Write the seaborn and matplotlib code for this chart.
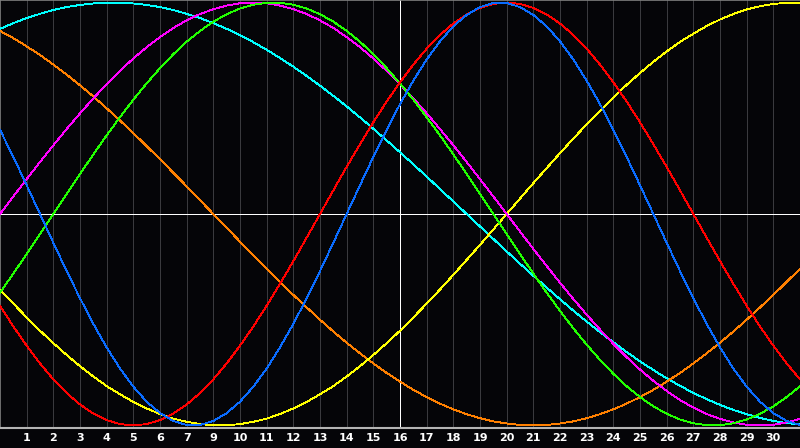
import numpy as np
import pandas as pd
import matplotlib
matplotlib.use("Agg")
import matplotlib.pyplot as plt
import seaborn as sns

# Day position along the x axis, read every half day (0 .. 30)
days = [i * 0.5 for i in range(61)]

# Tick labels at grid lines 1..29 (the chart skips "8")
tick_positions = list(range(1, 30))
tick_labels = ["1", "2", "3", "4", "5", "6", "7", "9", "10", "11", "12", "13", "14", "15",
               "16", "17", "18", "19", "20", "21", "22", "23", "24", "25", "26", "27",
               "28", "29", "30"]

# Series values (scale -1..1), every half day
physical = [0.398, 0.270, 0.136, 0.0, -0.136, -0.270, -0.398, -0.520, -0.631, -0.731,
            -0.817, -0.888, -0.942, -0.979, -0.998, -0.998, -0.979, -0.942, -0.888, -0.817,
            -0.731, -0.631, -0.520, -0.398, -0.270, -0.136, 0.0, 0.136, 0.270, 0.398,
            0.520, 0.631, 0.731, 0.817, 0.888, 0.942, 0.979, 0.998, 0.998, 0.979,
            0.942, 0.888, 0.817, 0.731, 0.631, 0.520, 0.398, 0.270, 0.136, 0.0,
            -0.136, -0.270, -0.398, -0.520, -0.631, -0.731, -0.817, -0.888, -0.942, -0.979,
            -0.998]
emotional = [-0.434, -0.532, -0.623, -0.707, -0.782, -0.847, -0.901, -0.944, -0.975, -0.994,
             -1.0, -0.994, -0.975, -0.944, -0.901, -0.847, -0.782, -0.707, -0.623, -0.532,
             -0.434, -0.330, -0.223, -0.112, 0.0, 0.112, 0.223, 0.330, 0.434, 0.532,
             0.623, 0.707, 0.782, 0.847, 0.901, 0.944, 0.975, 0.994, 1.0, 0.994,
             0.975, 0.944, 0.901, 0.847, 0.782, 0.707, 0.623, 0.532, 0.434, 0.330,
             0.223, 0.112, 0.0, -0.112, -0.223, -0.330, -0.434, -0.532, -0.623, -0.707,
             -0.782]
intellectual = [-0.372, -0.282, -0.189, -0.095, 0.0, 0.095, 0.189, 0.282, 0.372, 0.458,
                0.541, 0.618, 0.690, 0.756, 0.815, 0.866, 0.910, 0.945, 0.972, 0.990,
                0.999, 0.999, 0.990, 0.972, 0.945, 0.910, 0.866, 0.815, 0.756, 0.690,
                0.618, 0.541, 0.458, 0.372, 0.282, 0.189, 0.095, 0.0, -0.095, -0.189,
                -0.282, -0.372, -0.458, -0.541, -0.618, -0.690, -0.756, -0.815, -0.866, -0.910,
                -0.945, -0.972, -0.990, -0.999, -0.999, -0.990, -0.972, -0.945, -0.910, -0.866,
                -0.815]
intuitive = [0.0, 0.083, 0.165, 0.246, 0.325, 0.402, 0.476, 0.547, 0.614, 0.677,
             0.736, 0.789, 0.837, 0.880, 0.916, 0.946, 0.969, 0.986, 0.997, 1.0,
             0.997, 0.986, 0.969, 0.946, 0.916, 0.880, 0.837, 0.789, 0.736, 0.677,
             0.614, 0.547, 0.476, 0.402, 0.325, 0.246, 0.165, 0.083, 0.0, -0.083,
             -0.165, -0.246, -0.325, -0.402, -0.476, -0.547, -0.614, -0.677, -0.736, -0.789,
             -0.837, -0.880, -0.916, -0.946, -0.969, -0.986, -0.997, -1.0, -0.997, -0.986,
             -0.969]
aesthetic = [-0.357, -0.424, -0.489, -0.552, -0.611, -0.667, -0.720, -0.769, -0.814, -0.853,
             -0.889, -0.920, -0.946, -0.968, -0.983, -0.994, -0.999, -0.999, -0.994, -0.983,
             -0.968, -0.946, -0.920, -0.889, -0.853, -0.814, -0.769, -0.720, -0.667, -0.611,
             -0.552, -0.489, -0.424, -0.357, -0.288, -0.217, -0.146, -0.073, 0.0, 0.073,
             0.146, 0.217, 0.288, 0.357, 0.424, 0.489, 0.552, 0.611, 0.667, 0.720,
             0.769, 0.814, 0.853, 0.889, 0.920, 0.946, 0.968, 0.983, 0.994, 0.999,
             0.999]
awareness = [0.866, 0.832, 0.793, 0.752, 0.707, 0.659, 0.609, 0.556, 0.500, 0.442,
             0.383, 0.321, 0.259, 0.195, 0.131, 0.065, 0.0, -0.065, -0.131, -0.195,
             -0.259, -0.321, -0.383, -0.442, -0.500, -0.556, -0.609, -0.659, -0.707, -0.752,
             -0.793, -0.832, -0.866, -0.897, -0.924, -0.947, -0.966, -0.981, -0.991, -0.998,
             -1.0, -0.998, -0.991, -0.981, -0.966, -0.947, -0.924, -0.897, -0.866, -0.832,
             -0.793, -0.752, -0.707, -0.659, -0.609, -0.556, -0.500, -0.442, -0.383, -0.321,
             -0.259]
spiritual = [0.876, 0.903, 0.927, 0.947, 0.965, 0.979, 0.989, 0.996, 1.0, 1.0,
             0.996, 0.989, 0.979, 0.965, 0.947, 0.927, 0.903, 0.876, 0.846, 0.813,
             0.777, 0.738, 0.697, 0.653, 0.607, 0.559, 0.509, 0.457, 0.403, 0.348,
             0.292, 0.235, 0.177, 0.118, 0.059, 0.0, -0.059, -0.118, -0.177, -0.235,
             -0.292, -0.348, -0.403, -0.457, -0.509, -0.559, -0.607, -0.653, -0.697, -0.738,
             -0.777, -0.813, -0.846, -0.876, -0.903, -0.927, -0.947, -0.965, -0.979, -0.989,
             -0.996]

series_names = ["Spiritual", "Awareness", "Aesthetic", "Intuitive", "Intellectual",
                "Emotional", "Physical"]
series_values = [spiritual, awareness, aesthetic, intuitive, intellectual, emotional, physical]
series_colors = ["#00ffff", "#ff8000", "#ffff00", "#ff00ff", "#22ff00", "#ff0000", "#0a6cff"]

rows = []
for name, vals in zip(series_names, series_values):
    for d, v in zip(days, vals):
        rows.append({"day": d, "value": v, "series": name})
df = pd.DataFrame(rows)

BG = "#050508"
sns.set_style("dark")
plt.rcParams["font.family"] = ["DejaVu Sans"]

fig = plt.figure(figsize=(8.0, 4.48), dpi=100, facecolor=BG)
ax = fig.add_axes([0.0, 1 - 427.5 / 448, 1.0, 427.0 / 448])
ax.set_facecolor(BG)

LW = 0.72  # one pixel at 100 dpi

# vertical day grid
for k in tick_positions:
    ax.axvline(k, color="#3a3a3e", linewidth=LW, zorder=1, antialiased=False)

# zero line and "today" marker
ax.axhline(0, color="#ffffff", linewidth=LW, zorder=2, antialiased=False)
ax.axvline(15, color="#ffffff", linewidth=LW, zorder=2, antialiased=False)

sns.lineplot(data=df, x="day", y="value", hue="series", hue_order=series_names,
             palette=dict(zip(series_names, series_colors)), legend=False,
             linewidth=0.62, ax=ax, zorder=3, antialiased=False, estimator=None, sort=False)

ax.set_xlim(0, 30)
ax.set_ylim(-1.01, 1.01)
ax.set_xlabel("")
ax.set_ylabel("")
ax.set_yticks([])
ax.set_xticks(tick_positions)
ax.set_xticklabels(tick_labels, color="white", fontsize=8, fontweight="bold")
ax.tick_params(axis="x", length=0, pad=4)
ax.grid(False)

for side in ["left", "top"]:
    ax.spines[side].set_visible(True)
    ax.spines[side].set_color("#808080")
    ax.spines[side].set_linewidth(1.2)
ax.spines["bottom"].set_visible(True)
ax.spines["bottom"].set_color("#b4b4b4")
ax.spines["bottom"].set_linewidth(1.5)
ax.spines["right"].set_visible(False)

fig.savefig("out.png", dpi=100, facecolor=BG)
